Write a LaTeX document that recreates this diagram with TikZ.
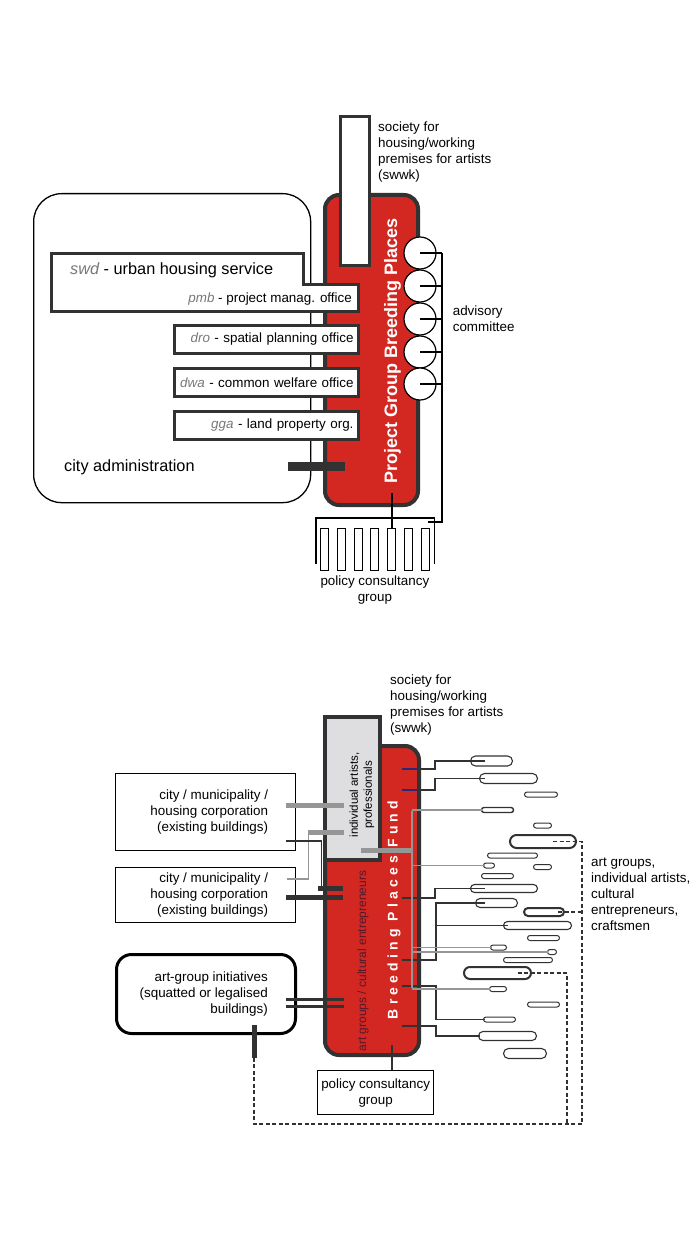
\documentclass[tikz,border=0pt]{standalone}
\usepackage{fontspec}
\setmainfont{Liberation Sans}
\usetikzlibrary{positioning,shapes.misc}
\definecolor{bpred}{RGB}{211,39,33}
\definecolor{edge}{RGB}{50,50,50}
\definecolor{linkgray}{RGB}{150,150,150}
\definecolor{boxgray}{RGB}{222,222,224}
\definecolor{acrogray}{RGB}{120,120,120}
\definecolor{stubnavy}{RGB}{40,40,120}
\definecolor{artred}{RGB}{85,25,45}
\newcommand{\diagtxt}{\fontsize{13.4}{16}\selectfont}
\newcommand{\diagbig}{\fontsize{16.3}{19}\selectfont}
\newcommand{\acro}[1]{{\color{acrogray}\itshape #1}}

\begin{document}
\begin{tikzpicture}[x=1pt, y=-1pt, every node/.style={inner sep=0pt, font=\diagtxt},
	office/.style={draw=edge, line width=3pt, fill=white, minimum height=28pt, text width=174pt, inner xsep=5pt, align=right, anchor=north west},
	redbar/.style={draw=edge, line width=4pt, fill=bpred, rounded corners=14pt, anchor=north west},
	capsule/.style={draw=edge, rounded rectangle, inner sep=0pt},
	link/.style={draw=edge, line width=1.4pt},
	graybar/.style={draw=linkgray, line width=5pt},
	grayline/.style={draw=linkgray, line width=1.6pt},
	darkbar/.style={draw=edge, line width=5pt},
	dashedlink/.style={draw=edge, line width=1.3pt, dash pattern=on 4pt off 2.5pt}]
	\useasboundingbox (0,0) rectangle (700,1252);

	\node[draw=black, line width=1.3pt, rounded corners=28pt, minimum width=277pt, minimum height=309pt, anchor=north west] (cityadm) at (33,193) {};
	\node[anchor=base west, font=\diagbig] (cityadmtext) at (64,471.5) {city administration};
	\node[redbar, minimum width=93pt, minimum height=310pt] (pgbar) at (323,193) {};
	\node[draw=edge, line width=3pt, fill=white, minimum width=29pt, minimum height=149pt, anchor=north west] (swwk) at (339,115) {};
	\node[anchor=north west, align=left] (swwktext) at (378,122) {society for\\housing/working\\premises for artists\\(swwk)};
	\node[rotate=90, text=white, font=\bfseries\fontsize{18}{20}\selectfont] (pgtitle) at (392.5,351) {Project Group Breeding Places};

	\filldraw[draw=edge, fill=white, line width=3pt] (51.5,253.5) -- (303.5,253.5) -- (303.5,284.5) -- (358.5,284.5) -- (358.5,311.5) -- (51.5,311.5) -- cycle;
	\node[anchor=base west, font=\diagbig] (swd) at (70,274) {\acro{swd} - urban housing service};
	\node[anchor=base east] (pmb) at (352,302.5) {\acro{pmb} - project manag. office};
	\node[office] (dro) at (173,324) {\acro{dro} - spatial planning office};
	\node[office] (dwa) at (173,367) {\acro{dwa} - common welfare office};
	\node[office] (gga) at (173,410) {\acro{gga} - land property org.};
	\node[fill=edge, minimum width=57pt, minimum height=9pt, anchor=west] (admlink) at (288,466.5) {};

	\foreach \i/\y in {1/253,2/286,3/319,4/352,5/384}
		\node[draw, line width=1.2pt, fill=white, circle, minimum size=32pt] (adv\i) at (420,\y) {};
	\coordinate (advrail) at (442,253);
	\coordinate (advfoot) at (428,522);
	\foreach \i in {1,...,5}
		\draw[line width=1.2pt] (adv\i.center) -- (adv\i.center -| advrail);
	\draw[line width=1.2pt] (advrail) |- (advfoot);
	\node[right=16pt of adv3, align=left] (advtext) {advisory\\committee};

	\node[minimum width=118pt, minimum height=46pt, anchor=north west] (pcg) at (316,518) {};
	\draw[line width=1.2pt] (pcg.south west) |- (pcg.north east) -- (pcg.south east);
	\foreach \k in {0,...,6}
		\node[draw, line width=0.9pt, fill=white, minimum width=8pt, minimum height=42pt, anchor=north] (tooth\k) at ({324.5+16.8*\k},527.5) {};
	\coordinate (pgfoot) at (392,493);
	\draw[line width=1.6pt] (pgfoot) -- (pgfoot |- tooth4.north);
	\node[below=5pt of tooth3, align=center] (pcgtext) {policy consultancy\\group};

	\node[anchor=north west, align=left] (swwktext2) at (390,675) {society for\\housing/working\\premises for artists\\(swwk)};
	\node[redbar, minimum width=94pt, minimum height=309pt] (bpbar) at (323,744) {};
	\node[draw=edge, line width=4pt, fill=boxgray, minimum width=55pt, minimum height=143pt, anchor=north west] (indiv) at (323,715) {};
	\node[rotate=90, align=center, font=\fontsize{11.5}{14}\selectfont] (indivtext) at (362,795) {individual artists,\\professionals};
	\node[rotate=90, text=white, font=\bfseries\fontsize{14}{16}\selectfont\addfontfeature{LetterSpace=30}] (bptitle) at (394,910) {Breeding Places Fund};
	\node[rotate=90, text=artred, font=\fontsize{12}{14}\selectfont] (agtext) at (363,961) {art groups / cultural entrepreneurs};

	\node[draw, line width=1.3pt, minimum width=180pt, minimum height=77pt, anchor=north west] (cmh1) at (115,773) {};
	\node[anchor=east, align=right] (cmh1text) at ([xshift=-28pt]cmh1.east) {city / municipality /\\housing corporation\\(existing buildings)};
	\node[draw, line width=1.3pt, minimum width=180pt, minimum height=55pt, anchor=north west] (cmh2) at (115,867) {};
	\node[anchor=east, align=right] (cmh2text) at ([xshift=-28pt]cmh2.east) {city / municipality /\\housing corporation\\(existing buildings)};
	\node[draw, line width=3pt, rounded corners=15pt, minimum width=179pt, minimum height=79pt, anchor=north west] (agi) at (115,953) {};
	\node[anchor=east, align=right] (agitext) at ([xshift=-29pt]agi.east) {art-group initiatives\\(squatted or legalised\\buildings)};
	\node[fill=edge, minimum width=5pt, minimum height=33pt, anchor=north] (agilink) at (254,1025) {};

	\draw[graybar] ([yshift=7pt]cmh1.east) ++(-10,0) -- ++(58,0);
	\draw[grayline] ([yshift=16pt]cmh2.east) ++(-9,0) -| ([xshift=12pt,yshift=-20pt]cmh1.east);
	\draw[graybar] ([xshift=12pt,yshift=-20pt]cmh1.east) -- ++(36,0);
	\draw[link, line width=1.6pt] ([yshift=-29pt]cmh1.east) ++(-10,0) -| ([xshift=25pt,yshift=7pt]cmh2.east);
	\draw[darkbar] ([xshift=22pt,yshift=7pt]cmh2.east) -- ++(25,0);
	\draw[darkbar] ([yshift=-2pt]cmh2.east) ++(-10,0) -- ++(57,0);
	\draw[link, line width=3pt] ([yshift=-5pt]agi.east) ++(-11,0) -- ++(58,0);
	\draw[link, line width=3pt] ([yshift=-12pt]agi.east) ++(-11,0) -- ++(58,0);

	\foreach \n/\x/\y/\w/\h/\lw in {1/491.5/761/42/10/1.1, 2/508.5/778.5/58/10/1.1, 3/541/794.5/33/5/1.0,
		4/497.5/810/32/5/1.4, 5/542.5/825.5/18/5/1.0, 6/543/841.5/66/13/2.0, 7/512.5/855.5/50/5/1.0,
		8/489/865.5/11/5/1.0, 9/542.5/867/18/5/1.0, 10/497.5/876/32/5/1.0, 11/504/888.5/67/8/1.1,
		12/496.5/903/42/9/1.1, 13/544/912/40/8/2.0, 14/537.5/925.5/68/8/1.1, 15/543.5/938/32/5/1.0,
		16/498.5/947.5/16/5/1.0, 17/552/952/9/5/1.0, 18/528/960/49/5/1.0, 19/497.5/973/67/12/2.0,
		20/498/989/17/5/1.0, 21/543.5/1004.5/32/5/1.0, 22/499.5/1019.5/32/5/1.0, 23/507.5/1036/58/9/1.1,
		24/525/1053.5/43/10/1.1}
		\node[capsule, line width=\lw pt, minimum width=\w pt, minimum height=\h pt] (c\n) at (\x,\y) {};

	\foreach \n/\y in {1/769,2/790,3/898,4/960,5/986,6/1026}
		\coordinate (port\n) at (402,\y);
	\draw[link] (port1) -- ++(33,0) |- ([xshift=15pt]c1.west);
	\draw[link] (port2) -- ++(33,0) |- ([xshift=6pt]c2.west);
	\draw[stubnavy, line width=1.2pt] (port1) -- ++(16,0);
	\draw[stubnavy, line width=1.2pt] (port2) -- ++(16,0);
	\draw[link] (port3) -- ++(33,0) |- ([xshift=15pt]c11.west);
	\draw[link] (port4) -- ++(34,0) |- ([xshift=10pt]c12.west);
	\draw[link] (port4) ++(34,0) |- ([xshift=5pt]c14.west);
	\draw[link] (port5) -- ++(34,0) |- ([xshift=2pt]c22.west);
	\draw[link] (port6) -- ++(34,0) |- ([xshift=2pt]c23.west);

	\coordinate (gspine) at (412,811);
	\coordinate (gbase) at (412,988);
	\coordinate (gbar) at (361,850);
	\draw[grayline] (gspine) -- (gbase);
	\draw[graybar] (gbar) -- (gbar -| gspine);
	\foreach \c/\dx in {4/1,8/2,16/2,17/1,20/1}
		\draw[grayline] (c\c.west -| gspine) -- ([xshift=\dx pt]c\c.west);

	\coordinate (rail1) at (582,1124);
	\coordinate (rail2) at (567,1124);
	\draw[dashedlink] ([xshift=10pt]c6.center) -| (rail1) -| (agilink.south);
	\draw[dashedlink] ([xshift=14pt]c13.center) -- (c13.center -| rail1);
	\draw[dashedlink] ([xshift=20pt]c19.center) -| (rail2);
	\node[anchor=north west, align=left] (arttext) at (591,858) {art groups,\\individual artists,\\cultural\\entrepreneurs,\\craftsmen};

	\node[draw, line width=1.3pt, align=center, minimum width=116pt, minimum height=44pt, anchor=north west] (pcg2) at (317,1070) {policy consultancy\\group};
	\coordinate (bpfoot) at (392,1045);
	\draw[link, line width=1.6pt] (bpfoot) -- (bpfoot |- pcg2.north);
\end{tikzpicture}
\end{document}
